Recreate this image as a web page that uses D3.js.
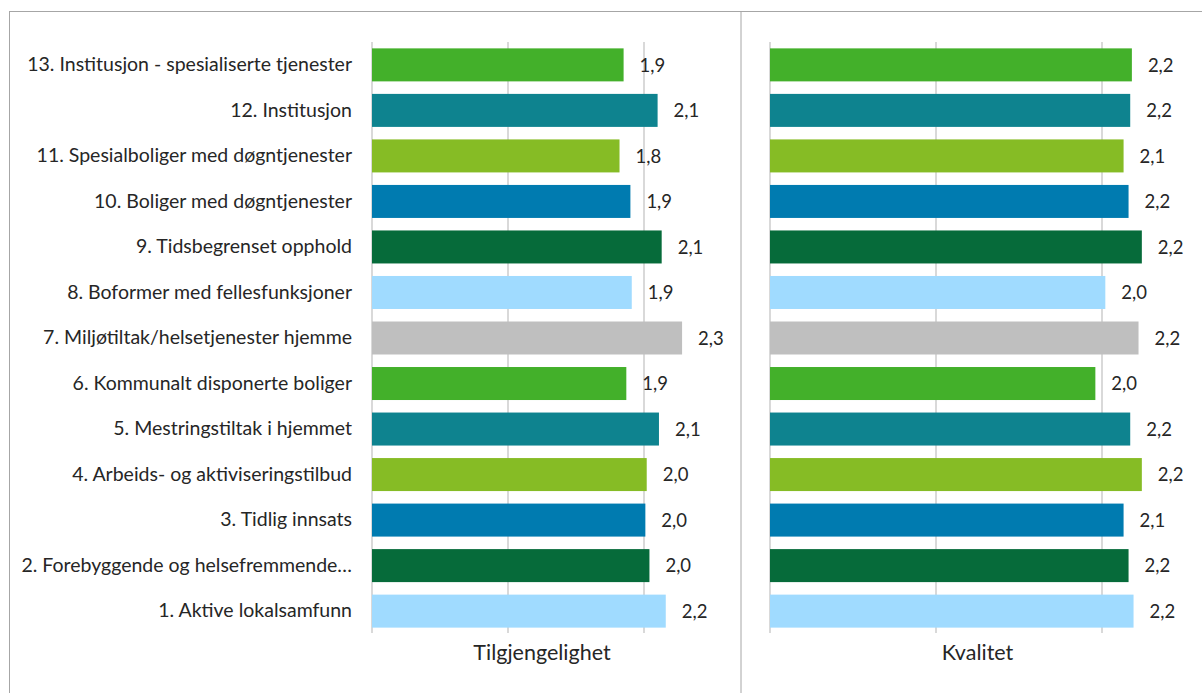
<!DOCTYPE html>
<html><head><meta charset="utf-8">
<script src="https://cdn.jsdelivr.net/npm/d3@7/dist/d3.min.js"></script>
<style>body{margin:0;background:#fff}svg{display:block}text{font-family:Lato,"Open Sans",sans-serif;fill:#262626}</style>
</head><body><svg id="c" width="1202" height="693"></svg>
<script>
const categories = ["1. Aktive lokalsamfunn","2. Forebyggende og helsefremmende…","3. Tidlig innsats","4. Arbeids- og aktiviseringstilbud","5. Mestringstiltak i hjemmet","6. Kommunalt disponerte boliger","7. Miljøtiltak/helsetjenester hjemme","8. Boformer med fellesfunksjoner","9. Tidsbegrenset opphold","10. Boliger med døgntjenester","11. Spesialboliger med døgntjenester","12. Institusjon","13. Institusjon - spesialiserte tjenester"];
const tilgjengelighet = [2.16,2.04,2.01,2.02,2.11,1.87,2.28,1.91,2.13,1.90,1.82,2.10,1.85];
const kvalitet = [2.19,2.16,2.13,2.24,2.17,1.96,2.22,2.02,2.24,2.16,2.13,2.17,2.18];
const barColors = ["#A0DBFF","#066B3A","#007BB0","#86BC25","#0E838F","#43B02A","#BFBFBF","#A0DBFF","#066B3A","#007BB0","#86BC25","#0E838F","#43B02A"];
const panelTitles = ["Tilgjengelighet","Kvalitet"];
const xTicks = [0,1,2];

const svg = d3.select("#c");
svg.append("rect").attr("x",9.5).attr("y",11.5).attr("width",1210).attr("height",700)
  .attr("fill","none").attr("stroke","#a6a6a6").attr("stroke-width",1);
svg.append("line").attr("x1",741).attr("x2",741).attr("y1",11).attr("y2",693)
  .attr("stroke","#a6a6a6").attr("stroke-width",1);

const y = d3.scaleBand().domain(categories.slice().reverse()).range([42,634]).paddingInner(0.275).paddingOuter(0.14);
const fmt = v => d3.format(".1f")(v).replace(".",",");

const panels = [
  {vals:tilgjengelighet, x:d3.scaleLinear().domain([0,2.5]).range([372,712]), title:panelTitles[0]},
  {vals:kvalitet, x:d3.scaleLinear().domain([0,2.5]).range([770,1185]), title:panelTitles[1]}
];

panels.forEach(p=>{
  const g = svg.append("g");
  g.selectAll("line.grid").data(xTicks).join("line")
    .attr("x1",d=>p.x(d)).attr("x2",d=>p.x(d)).attr("y1",42).attr("y2",633)
    .attr("stroke","#d9d9d9").attr("stroke-width",2);
  g.selectAll("rect.bar").data(categories).join("rect")
    .attr("x",p.x(0)).attr("y",d=>y(d)).attr("height",y.bandwidth())
    .attr("width",(d,i)=>p.x(p.vals[i])-p.x(0)).attr("fill",(d,i)=>barColors[i]);
  g.selectAll("text.lab").data(categories).join("text")
    .attr("x",(d,i)=>p.x(p.vals[i])+16).attr("y",d=>y(d)+y.bandwidth()/2).attr("dy","0.36em")
    .attr("font-size",18.5).text((d,i)=>fmt(p.vals[i]));
  g.append("text").attr("x",(p.x.range()[0]+p.x.range()[1])/2).attr("y",660)
    .attr("text-anchor","middle").attr("font-size",21.5).text(p.title);
});

const yAxis = d3.axisLeft(y).tickSize(0).tickPadding(20);
const ga = svg.append("g").attr("transform","translate(372,0)").call(yAxis);
ga.select(".domain").remove();
ga.selectAll("text").attr("font-size",19.5).style("font-family","Lato,'Open Sans',sans-serif").attr("fill","#262626");
</script></body></html>
